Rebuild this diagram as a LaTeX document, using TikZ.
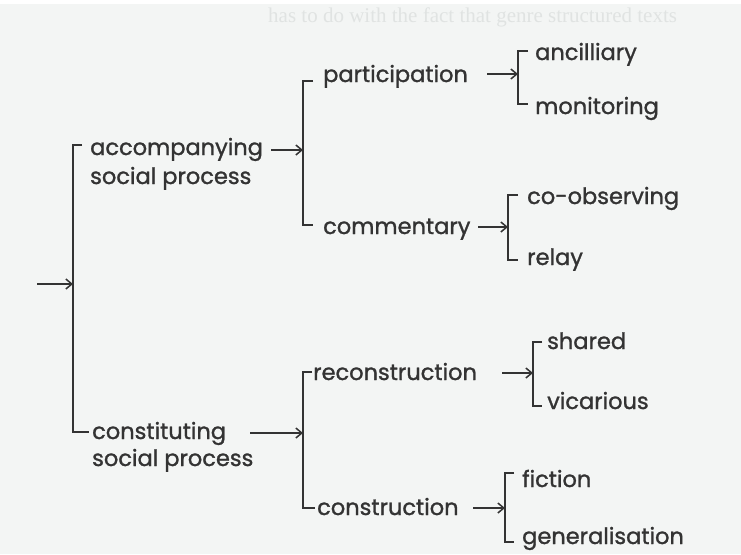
\documentclass[tikz,border=0pt]{standalone}
\usepackage{fontspec}
\setmainfont{Poppins}
\newfontfamily\netfont{Poppins}[FakeBold=1.2]
\newfontfamily\bleedfont{Liberation Serif}
\usetikzlibrary{arrows.meta}
\definecolor{paper}{HTML}{F3F5F4}
\definecolor{ink}{HTML}{333333}
\definecolor{ghost}{HTML}{E0E3E2}
\begin{document}
\begin{tikzpicture}[x=1pt,y=-1pt,
  lbl/.style={anchor=base west,inner sep=0pt,font=\netfont\fontsize{22.5}{26}\selectfont,text=ink},
  wire/.style={draw=ink,line width=1.7pt,line join=miter},
  arr/.style={draw=ink,line width=1.7pt,-{Straight Barb[length=6pt,width=10pt,line width=1.5pt]}},
]
% paper
\fill[paper] (0,0) rectangle (741,554);
\fill[white] (0,0) rectangle (741,4);
\useasboundingbox (0,0) rectangle (741,554);
\node[anchor=base west,inner sep=0pt,font=\bleedfont\fontsize{21}{24}\selectfont,text=ghost] (bleed) at (268,22) {has to do with the fact that genre structured texts};

% ---- labels ----
\node[lbl] (acc)   at (90,155)  {accompanying};
\node[lbl] (acc2)  at (90,184)  {social process};
\node[lbl] (con)   at (92,439)  {constituting};
\node[lbl] (con2)  at (92,466)  {social process};
\node[lbl] (part)  at (323,82)  {participation};
\node[lbl] (comm)  at (323,234) {commentary};
\node[lbl] (recon) at (313,380) {reconstruction};
\node[lbl] (cons)  at (317,515) {construction};
\node[lbl] (anc)   at (535,60)  {ancilliary};
\node[lbl] (mon)   at (535,114) {monitoring};
\node[lbl] (coob)  at (527,204) {co-observing};
\node[lbl] (rel)   at (527,265) {relay};
\node[lbl] (shar)  at (547,349) {shared};
\node[lbl] (vic)   at (547,409) {vicarious};
\node[lbl] (fic)   at (522,487) {fiction};
\node[lbl] (gen)   at (522,544) {generalisation};

% ---- entry point and brackets ----
\coordinate (start) at (37,284);
\coordinate (mainB) at (73,284);
\draw[wire] (82,145) -- (73,145) -- (73,432) -- (89,432);
\draw[arr] (start) -- (mainB);

% accompanying social process
\coordinate (accB) at (303,150);
\draw[wire] (313,81) -- (303,81) -- (303,225) -- (313,225);
% constituting social process
\coordinate (conB) at (303,433);
\draw[wire] (312,372) -- (303,372) -- (303,508) -- (315,508);
% participation
\coordinate (partB) at (518,74);
\draw[wire] (528,51) -- (518,51) -- (518,104) -- (528,104);
% commentary
\coordinate (commB) at (508,227);
\draw[wire] (518,195) -- (508,195) -- (508,260) -- (518,260);
% reconstruction
\coordinate (reconB) at (533,373);
\draw[wire] (542,342) -- (533,342) -- (533,406) -- (542,406);
% construction
\coordinate (consB) at (505,508);
\draw[wire] (514,473) -- (505,473) -- (505,542) -- (514,542);

% ---- arrows from features to their systems ----
\coordinate (accT)   at (271,150);
\coordinate (conT)   at (250,433);
\coordinate (partT)  at (487,74);
\coordinate (commT)  at (478,227);
\coordinate (reconT) at (502,373);
\coordinate (consT)  at (473,508);
\draw[arr] (accT) -- (accB);
\draw[arr] (conT) -- (conB);
\draw[arr] (partT) -- (partB);
\draw[arr] (commT) -- (commB);
\draw[arr] (reconT) -- (reconB);
\draw[arr] (consT) -- (consB);
\end{tikzpicture}
\end{document}
